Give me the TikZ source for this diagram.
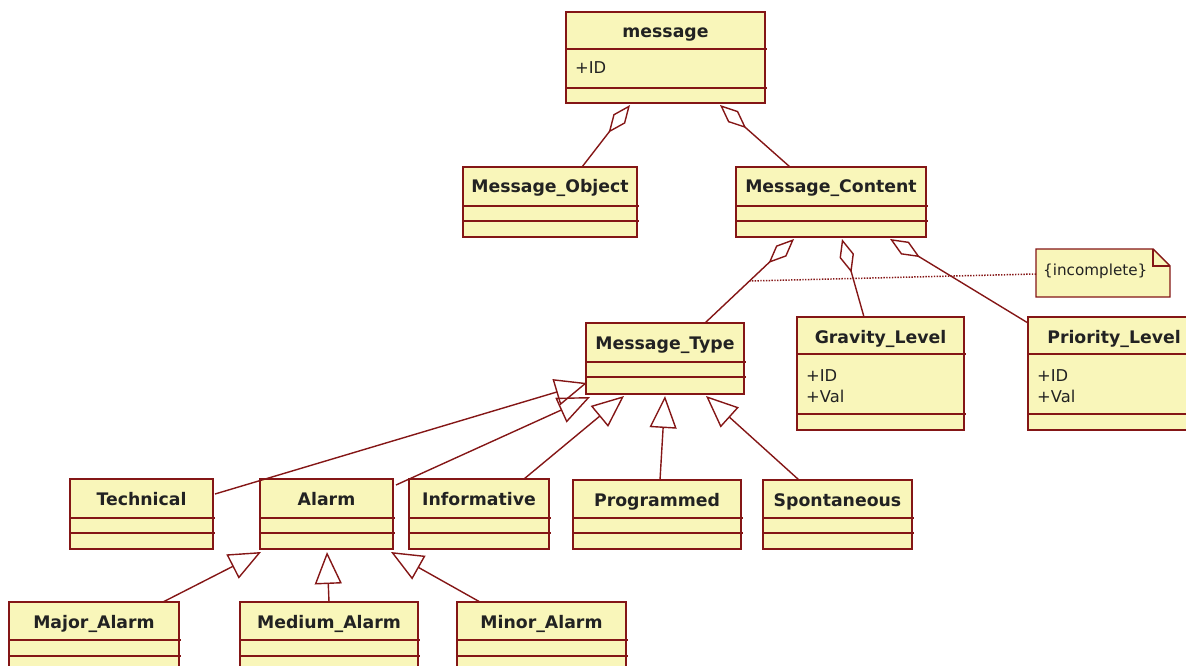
\documentclass[tikz,border=0pt]{standalone}
\usepackage{fontspec}
\setmainfont{DejaVu Sans}
\usetikzlibrary{arrows.meta,calc,fit}
\definecolor{umlfill}{RGB}{249,246,186}
\definecolor{umlline}{RGB}{132,22,22}
\definecolor{umltext}{RGB}{34,34,34}
\tikzset{
  classbox/.style={draw=umlline, fill=umlfill, inner sep=0pt, outer sep=0pt, line width=1.4pt},
  classline/.style={draw=umlline, line width=1.4pt},
  classtitle/.style={anchor=base, font=\fontsize{17.3}{20}\selectfont\bfseries, text=umltext, inner sep=0pt},
  attr/.style={anchor=base west, font=\fontsize{16.3}{19}\selectfont, text=umltext, inner sep=0pt},
  notetext/.style={anchor=base west, font=\fontsize{15.2}{18}\selectfont, text=umltext, inner sep=0pt},
  agg/.style={draw=umlline, line width=1.4pt, line join=miter, arrows={Diamond[open,length=35pt,width=15pt]-}},
  gen/.style={draw=umlline, line width=1.4pt, line join=miter, arrows={-Triangle[open,length=32pt,width=27pt]}},
  noteline/.style={draw=umlline, line width=1.5pt, dash pattern=on 1.4pt off 1.4pt}
}
% #1 name, #2 x1, #3 y1, #4 x2, #5 y2, #6 d1, #7 d2, #8 title
\newcommand\umlclass[8]{%
  \node[classbox, fit={(#2,#3) (#4,#5)}] (#1) {};
  \draw[classline] (#2,#6) -- (#4+2,#6);
  \draw[classline] (#2,#7) -- (#4+2,#7);
  \node[classtitle] (#1-title) at ($(#1.north)+(0,26)$) {#8};
}
\begin{document}
\begin{tikzpicture}[x=1pt,y=-1pt]
\useasboundingbox (0,0) rectangle (1186,666);
\clip (0,0) rectangle (1186,666);

% classes
\umlclass{message}{566}{12}{765}{103}{49}{88}{message}
\node[attr] (message-id) at (575,74) {+ID};
\umlclass{mobject}{463}{167}{637}{237}{206}{221}{Message\_Object}
\umlclass{mcontent}{736}{167}{926}{237}{206}{221}{Message\_Content}
\umlclass{mtype}{586}{323}{744}{394}{362}{377}{Message\_Type}
\umlclass{gravity}{797}{317}{964}{430}{354}{414}{Gravity\_Level}
\node[attr] (gravity-id) at (806,381) {+ID};
\node[attr] (gravity-val) at (806,402) {+Val};
\umlclass{priority}{1028}{317}{1200}{430}{354}{414}{Priority\_Level}
\node[attr] (priority-id) at (1037,381) {+ID};
\node[attr] (priority-val) at (1037,402) {+Val};
\umlclass{technical}{70}{479}{213}{549}{518}{533}{Technical}
\umlclass{alarm}{260}{479}{393}{549}{518}{533}{Alarm}
\umlclass{informative}{409}{479}{549}{549}{518}{533}{Informative}
\umlclass{programmed}{573}{480}{741}{549}{518}{533}{Programmed}
\umlclass{spontaneous}{763}{480}{912}{549}{518}{533}{Spontaneous}
\umlclass{major}{9}{602}{179}{672}{640}{656}{Major\_Alarm}
\umlclass{medium}{240}{602}{418}{672}{640}{656}{Medium\_Alarm}
\umlclass{minor}{457}{602}{626}{672}{640}{656}{Minor\_Alarm}

% note
\node[inner sep=0pt, outer sep=0pt, fit={(1036,249) (1170,297)}] (note) {};
\draw[classline, fill=umlfill] (note.north west) -- ($(note.north east)+(-17,0)$)
  -- ($(note.north east)+(0,17)$) -- (note.south east) -- (note.south west) -- cycle;
\draw[classline] ($(note.north east)+(-17,0)$) -- ($(note.north east)+(-17,17)$)
  -- ($(note.north east)+(0,17)$);
\node[notetext] (note-text) at (1043,275) {\{incomplete\}};

% aggregations
\draw[agg] ($(message.south west)+(64,2)$) -- ($(mobject.north west)+(119,0)$);
\draw[agg] ($(message.south west)+(154,2)$) -- ($(mcontent.north west)+(54,0)$);
\coordinate (a3s) at ($(mcontent.south west)+(58,2)$);
\coordinate (a3e) at ($(mtype.north west)+(119,0)$);
\draw[agg] (a3s) -- (a3e);
\draw[agg] ($(mcontent.south west)+(106,2)$) -- ($(gravity.north west)+(67,0)$);
\draw[agg] ($(mcontent.south west)+(154,2)$) -- ($(priority.north west)+(0,6)$);

% constraint note link
\coordinate (incend) at ($(a3s)!0.5!(a3e)$);
\draw[noteline] ($(note.north west)+(0,25)$) -- (incend);

% generalizations
\draw[gen] ($(technical.north east)+(2,15)$) -- ($(mtype.south west)+(1,-11)$);
\draw[gen] ($(alarm.north east)+(3,6)$) -- ($(mtype.south west)+(4,3)$);
\draw[gen] ($(informative.north west)+(115,0)$) -- ($(mtype.south west)+(38,2)$);
\draw[gen] ($(programmed.north west)+(87,0)$) -- ($(mtype.south west)+(79,2)$);
\draw[gen] ($(spontaneous.north west)+(36,0)$) -- ($(mtype.south west)+(120,2)$);
\draw[gen] ($(major.north west)+(154,0)$) -- ($(alarm.south west)+(1,3)$);
\draw[gen] ($(medium.north west)+(89,0)$) -- ($(alarm.south west)+(67,3)$);
\draw[gen] ($(minor.north west)+(23,0)$) -- ($(alarm.south west)+(131,3)$);
\end{tikzpicture}
\end{document}
